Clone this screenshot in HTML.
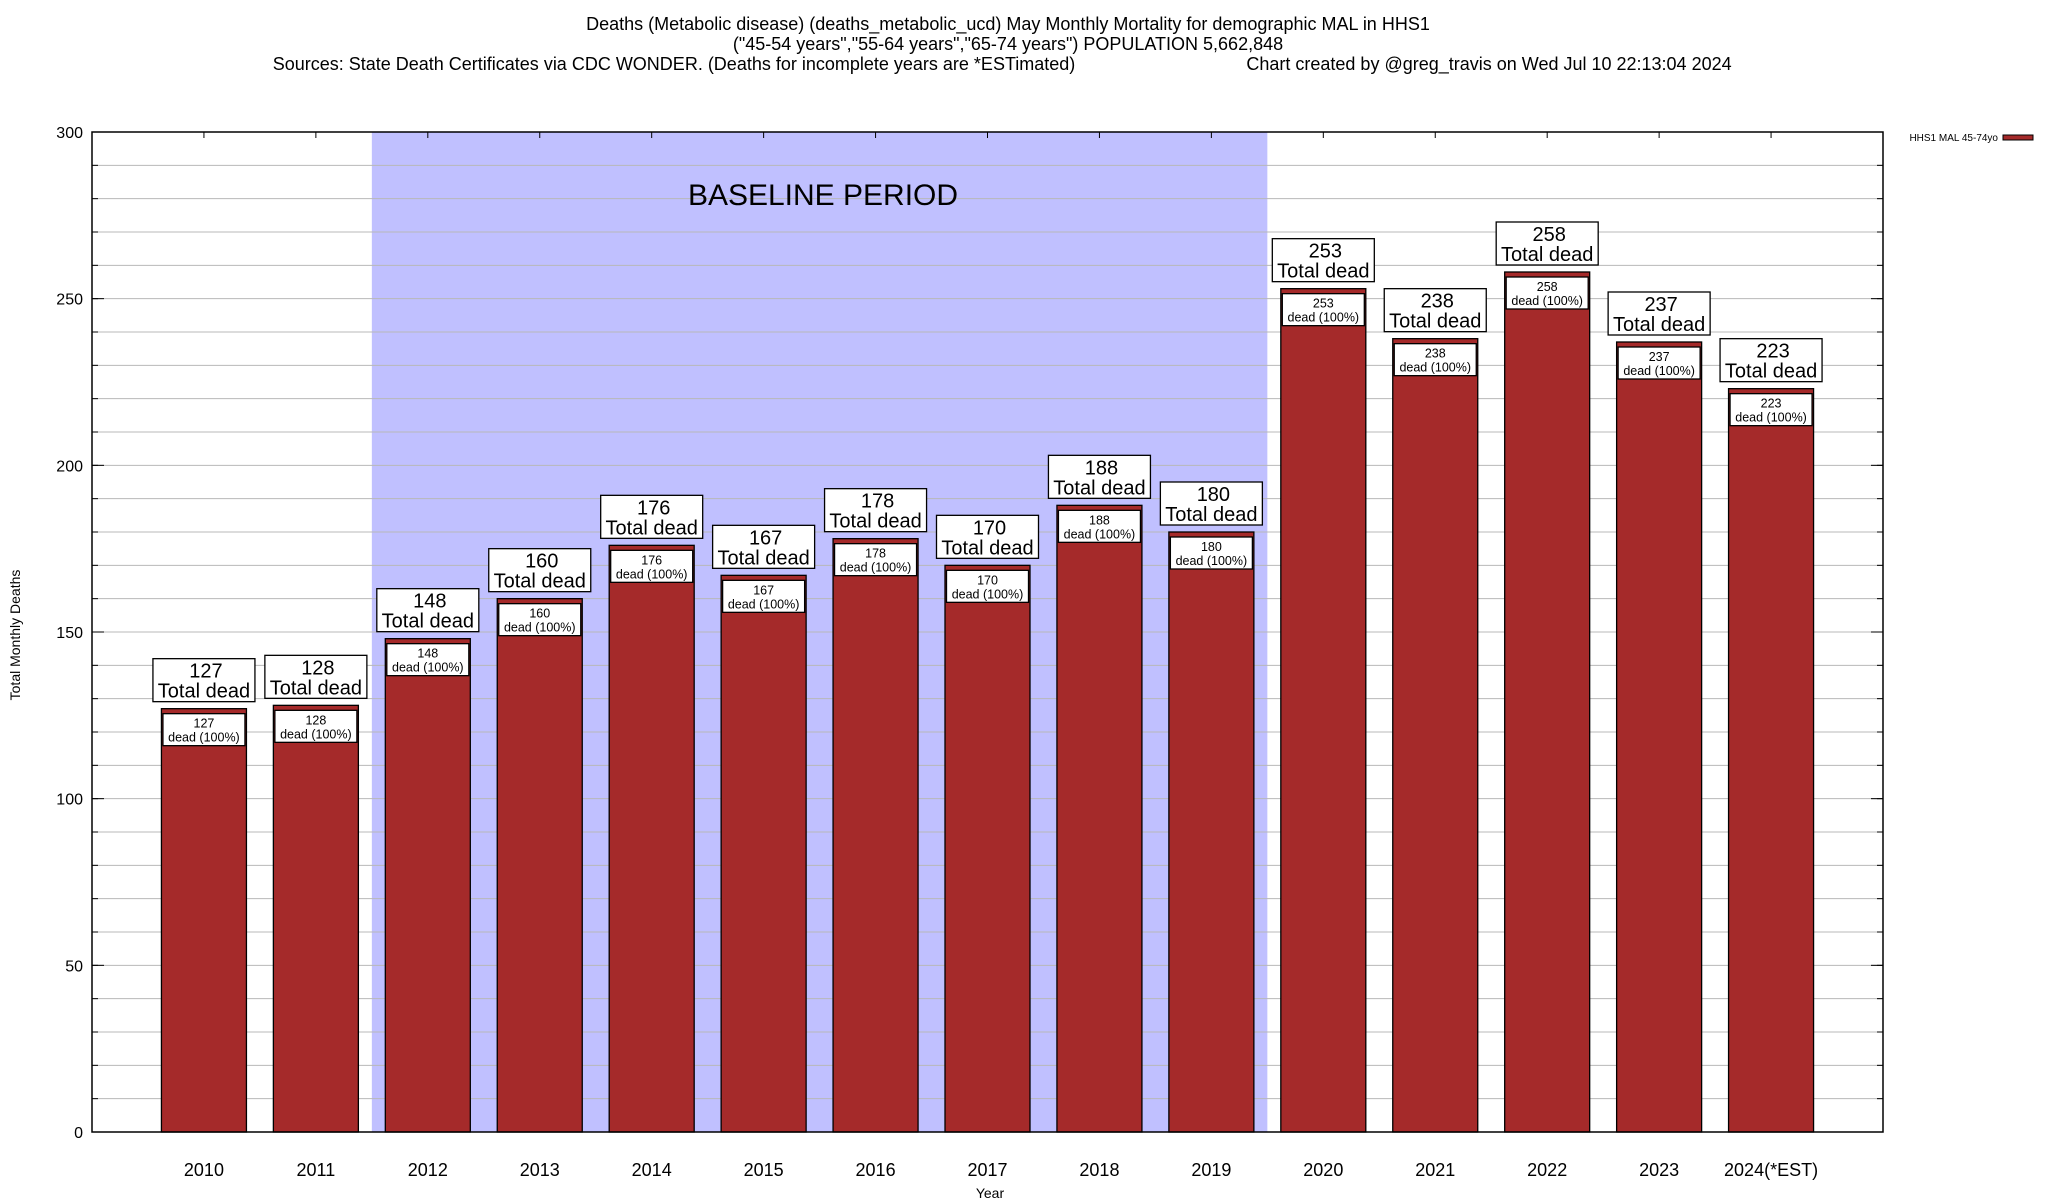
<!DOCTYPE html>
<html><head><meta charset="utf-8">
<style>
html,body{margin:0;padding:0;background:#fff;}
svg{display:block;font-family:"Liberation Sans",Arial,sans-serif;}
</style></head>
<body>
<svg id="chart" width="2048" height="1200" viewBox="0 0 2048 1200" xmlns="http://www.w3.org/2000/svg">
  <g font-size="18" text-anchor="middle" fill="#000">
    <text x="1008" y="30">Deaths (Metabolic disease) (deaths_metabolic_ucd) May Monthly Mortality for demographic MAL in HHS1</text>
    <text x="1008" y="50">("45-54 years","55-64 years","65-74 years") POPULATION 5,662,848</text>
    <text x="674" y="70">Sources: State Death Certificates via CDC WONDER. (Deaths for incomplete years are *ESTimated)</text>
    <text x="1489" y="70">Chart created by @greg_travis on Wed Jul 10 22:13:04 2024</text>
  </g>
  <g id="plot"></g>
  <g>
    <text x="1998" y="141" font-size="10" text-anchor="end">HHS1 MAL 45-74yo</text>
    <rect x="2003" y="135" width="30" height="5" fill="#a52a2a" stroke="#000" stroke-width="1"/>
  </g>
  <text x="20" y="635" font-size="14" text-anchor="middle" transform="rotate(-90 20 635)">Total Monthly Deaths</text>
  <text x="990" y="1198" font-size="14" text-anchor="middle">Year</text>
</svg>
<script>
const categories = ["2010","2011","2012","2013","2014","2015","2016","2017","2018","2019","2020","2021","2022","2023","2024(*EST)"];
const deaths = [127,128,148,160,176,167,178,170,188,180,253,238,258,237,223];
const yTicks = [0,50,100,150,200,250,300];
const baselineRange = [1.5, 9.5];

const NS = "http://www.w3.org/2000/svg";
const L = 92, R = 1883, T = 132, B = 1132;
const slot = (R - L) / 16;
function xs(i){ return L + (i + 1) * slot; }
function ys(v){ return B - (v / 300) * (B - T); }
const plot = document.getElementById('plot');
function mk(tag, attrs, parent){
  const e = document.createElementNS(NS, tag);
  for (const k in attrs) e.setAttribute(k, attrs[k]);
  (parent || plot).appendChild(e);
  return e;
}

const base = mk('rect', {x: xs(baselineRange[0]), y: T, width: xs(baselineRange[1]) - xs(baselineRange[0]), height: B - T, fill: '#c0c0ff'});



for (let v = 10; v < 300; v += 10) {
  const g = mk('line', {x1: L, x2: R, y1: ys(v), y2: ys(v), stroke: '#b8b8b8', 'stroke-width': 1});
  
  
  mk('line', {x1: L, x2: L + 6, y1: ys(v), y2: ys(v), stroke: '#000'});
  mk('line', {x1: R - 6, x2: R, y1: ys(v), y2: ys(v), stroke: '#000'});
}
yTicks.forEach(v => {
  const t = mk('text', {x: 83, y: ys(v) + 6, 'font-size': 16, 'text-anchor': 'end'});
  t.textContent = v;
  
  
  mk('line', {x1: L, x2: L + 12, y1: ys(v), y2: ys(v), stroke: '#000'});
  mk('line', {x1: R - 12, x2: R, y1: ys(v), y2: ys(v), stroke: '#000'});
});

const bl = mk('text', {x: 823, y: 205, 'font-size': 30, 'text-anchor': 'middle'});
bl.textContent = 'BASELINE PERIOD';



const bw = 85;
categories.forEach((c, i) => {
  const cx = xs(i), v = deaths[i], top = ys(v);
  const bar = mk('rect', {x: cx - bw/2, y: top, width: bw, height: B - top, fill: '#a52a2a', stroke: '#000', 'stroke-width': 1.3});
  
  
  const ib = mk('rect', {x: cx - 41, y: top + 5, width: 82, height: 32, fill: '#fff', stroke: '#000', 'stroke-width': 1.3});
  
  
  const t1 = mk('text', {x: cx, y: top + 19, 'font-size': 12.5, 'text-anchor': 'middle'});
  t1.textContent = v;
  
  
  const t2 = mk('text', {x: cx, y: top + 33, 'font-size': 12.5, 'text-anchor': 'middle'});
  t2.textContent = 'dead (100%)';
  
  
  const ob = mk('rect', {x: cx - 51, y: top - 50, width: 102, height: 43, fill: '#fff', stroke: '#000', 'stroke-width': 1.3});
  
  
  const t3 = mk('text', {x: cx + 2, y: top - 31, 'font-size': 20, 'text-anchor': 'middle'});
  t3.textContent = v;
  
  
  const t4 = mk('text', {x: cx, y: top - 11, 'font-size': 20, 'text-anchor': 'middle'});
  t4.textContent = 'Total dead';
  
  
  const xl = mk('text', {x: cx, y: 1176, 'font-size': 18, 'text-anchor': 'middle'});
  xl.textContent = c;
  
  
  mk('line', {x1: cx, x2: cx, y1: T, y2: T + 6, stroke: '#000'});
});

const frame = mk('rect', {x: L, y: T, width: R - L, height: B - T, fill: 'none', stroke: '#000', 'stroke-width': 1.5});


</script>
</body></html>
